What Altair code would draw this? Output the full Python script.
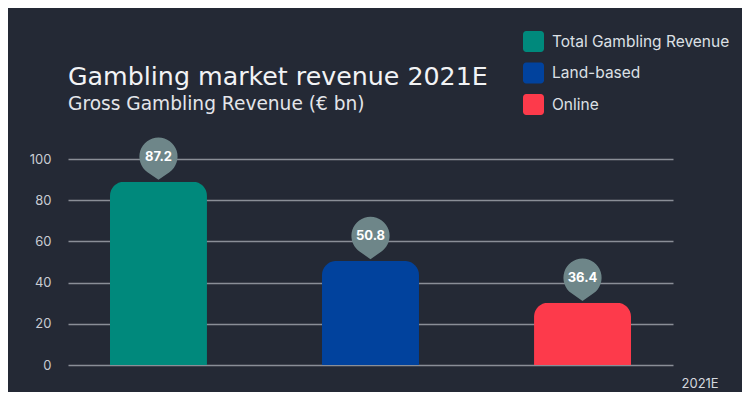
import altair as alt
import pandas as pd

categories = ["Total Gambling Revenue", "Land-based", "Online"]
bar_values = [89.0, 50.5, 30.2]
label_texts = ["87.2", "50.8", "36.4"]
colors = ["#00897c", "#01429d", "#fd3a4b"]
y_ticks = [0, 20, 40, 60, 80, 100]

df = pd.DataFrame({"category": categories, "value": bar_values, "label": label_texts})

FONT = "Inter"
TFONT = "DejaVu Sans"
BG = "#242935"

pin_path = "M0,1 L-0.5175,0.636 A0.9,0.9 0 1,1 0.5175,0.636 Z"
rounded_sq = ("M-0.7,-1 H0.7 A0.3,0.3 0 0 1 1,-0.7 V0.7 A0.3,0.3 0 0 1 0.7,1 "
              "H-0.7 A0.3,0.3 0 0 1 -1,0.7 V-0.7 A0.3,0.3 0 0 1 -0.7,-1 Z")

x_enc = alt.X(
    "category:N",
    sort=categories,
    scale=alt.Scale(paddingInner=0.5425, paddingOuter=0.198),
    axis=alt.Axis(labels=False, ticks=False, domain=False, grid=False,
                  title="2021E", titleFont=FONT, titleFontSize=13,
                  titleFontWeight="normal", titleColor="#d5d8de",
                  titleX=613, titleY=18, titleAlign="left",
                  titleBaseline="middle"),
)

y_enc = alt.Y(
    "value:Q",
    scale=alt.Scale(domain=[0, 100], nice=False),
    axis=alt.Axis(values=y_ticks, title=None, domain=False, ticks=False,
                  grid=True, gridColor="#8a8e97", gridWidth=1.5,
                  labelFont=FONT, labelFontSize=13, labelColor="#c9ccd3",
                  labelPadding=17),
)

bars = alt.Chart(df).mark_bar(
    cornerRadiusTopLeft=14, cornerRadiusTopRight=14
).encode(
    x=x_enc,
    y=y_enc,
    color=alt.Color(
        "category:N",
        sort=categories,
        scale=alt.Scale(domain=categories, range=colors),
        legend=alt.Legend(
            title=None, orient="none", legendX=455, legendY=-128,
            symbolType=rounded_sq, symbolSize=441, symbolStrokeWidth=0,
            symbolOpacity=1, rowPadding=10.5, labelOffset=8,
            labelFont=FONT, labelFontSize=15.5, labelColor="#dde0e5",
            labelLimit=400, padding=0,
        ),
    ),
)

pins = alt.Chart(df).mark_point(
    shape=pin_path, size=1800, filled=True, opacity=1,
    color="#6e8689", yOffset=-23, clip=False,
).encode(x=alt.X("category:N", sort=categories), y="value:Q")

texts = alt.Chart(df).mark_text(
    font=FONT, fontSize=13, fontWeight="bold", color="#ffffff",
    baseline="middle", yOffset=-24.5,
).encode(x=alt.X("category:N", sort=categories), y="value:Q", text="label:N")

chart = alt.layer(bars, pins, texts).properties(
    width=605,
    height=206,
    background=BG,
    padding={"left": 60, "top": 151, "right": 69, "bottom": 27},
    autosize=alt.AutoSizeParams(type="none"),
    title=alt.TitleParams(
        text="Gambling market revenue 2021E",
        subtitle="Gross Gambling Revenue (€ bn)",
        anchor="start", frame="group", orient="top",
        font=TFONT, fontSize=25.3, fontWeight="normal", color="#f2f3f5",
        subtitleFont=TFONT, subtitleFontSize=18.6, subtitleColor="#e3e5ea",
        subtitlePadding=5, offset=-83,
    ),
).configure_view(stroke=None)

chart.save("out.html", embed_options={"renderer": "svg", "actions": False})
